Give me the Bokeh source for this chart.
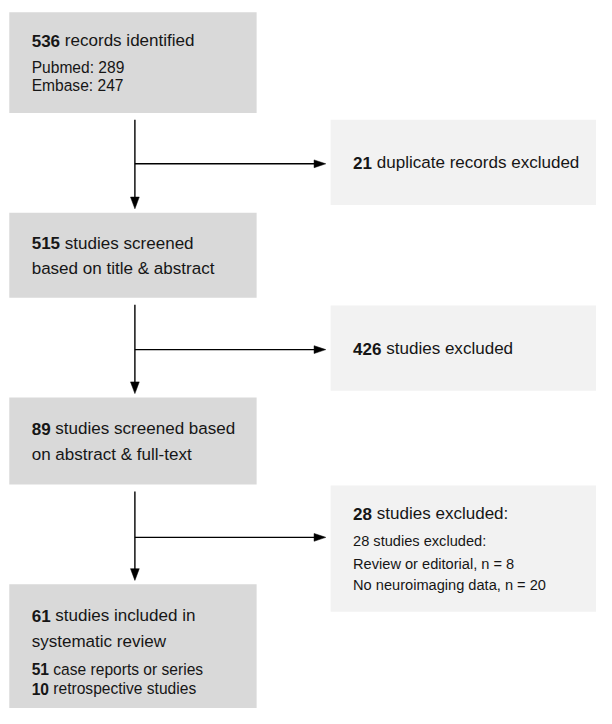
from bokeh.plotting import figure
from bokeh.models import ColumnDataSource, Range1d
from bokeh.core.properties import value
from bokeh.embed import file_html
from bokeh.resources import INLINE

# ---------------- data ----------------
record_total = 536
source_names = ["Pubmed", "Embase"]
source_counts = [289, 247]
screen_counts = [515, 89]
screen_labels = [["studies screened", "based on title & abstract"],
                 ["studies screened based", "on abstract & full-text"]]
included_count = 61
included_labels = ["studies included in", "systematic review"]
design_counts = [51, 10]
design_labels = ["case reports or series", "retrospective studies"]
excluded_counts = [21, 426, 28]
excluded_labels = ["duplicate records excluded", "studies excluded", "studies excluded:"]
reason_labels = ["Review or editorial", "No neuroimaging data"]
reason_counts = [8, 20]

# ---------------- layout (reference pixels, 612 x 724 design) ----------------
W, H = 596, 708            # figure size that fits the window
DW, DH = 612, 724          # design space
S = min(W / DW, H / DH)    # font scale
LEFT_X = (9, 263)
RIGHT_X = (339, 640)
left_tops = [12, 217, 406, 597]
left_bots = [115, 304, 495, 740]
right_tops = [122, 312, 496]
right_bots = [209, 399, 625]
branch_y = [167, 357, 549]
stem_x = 138
tip_x = 334
TX_L, TX_R = 32, 362
HEAD_FS, SUB_FS, SUB_FS_R = 17.5, 16.0, 15.0
LEFT_FILL, RIGHT_FILL = "#d9d9d9", "#f2f2f2"
INK = "#161616"

p = figure(width=W, height=H, output_backend="svg", toolbar_location=None,
           x_range=Range1d(0, DW), y_range=Range1d(DH, 0),
           min_border=0, outline_line_color=None)
p.axis.visible = False
p.grid.visible = False
p.background_fill_color = "white"
p.border_fill_color = "white"

# boxes
p.quad(left=[LEFT_X[0]] * 4, right=[LEFT_X[1]] * 4, top=left_tops, bottom=left_bots,
       fill_color=LEFT_FILL, line_color=None)
p.quad(left=[RIGHT_X[0]] * 3, right=[RIGHT_X[1]] * 3, top=right_tops, bottom=right_bots,
       fill_color=RIGHT_FILL, line_color=None)

# text
xs, ys, txt, sty, siz = [], [], [], [], []

def add(x, y, t, style, fs):
    xs.append(x); ys.append(y); txt.append(t); sty.append(style)
    siz.append(f"{fs * S:.2f}px")

def bold_lead(x, y, n, rest, fs):
    s = str(n)
    add(x, y, s, "bold", fs)
    add(x + len(s) * 0.556 * fs + 0.278 * fs, y, rest, "normal", fs)

# box 1
bold_lead(TX_L, 41, record_total, "records identified", HEAD_FS)
for name, cnt, yy in zip(source_names, source_counts, [69, 87]):
    add(TX_L, yy, f"{name}: {cnt}", "normal", SUB_FS)
# box 2, 3
for cnt, labs, (y1, y2) in zip(screen_counts, screen_labels, [(248, 274), (438, 464)]):
    bold_lead(TX_L, y1, cnt, labs[0], HEAD_FS)
    add(TX_L, y2, labs[1], "normal", HEAD_FS)
# box 4
bold_lead(TX_L, 629, included_count, included_labels[0], HEAD_FS)
add(TX_L, 655, included_labels[1], "normal", HEAD_FS)
for cnt, lab, yy in zip(design_counts, design_labels, [684, 704]):
    bold_lead(TX_L, yy, cnt, lab, SUB_FS)
# right boxes
bold_lead(TX_R, 166, excluded_counts[0], excluded_labels[0], HEAD_FS)
bold_lead(TX_R, 356, excluded_counts[1], excluded_labels[1], HEAD_FS)
bold_lead(TX_R, 525, excluded_counts[2], excluded_labels[2], HEAD_FS)
add(TX_R, 553, f"{excluded_counts[2]} {excluded_labels[2]}", "normal", SUB_FS_R)
for lab, cnt, yy in zip(reason_labels, reason_counts, [576, 598]):
    add(TX_R, yy, f"{lab}, n = {cnt}", "normal", SUB_FS_R)

src = ColumnDataSource(dict(x=xs, y=ys, text=txt, style=sty, size=siz))
p.text(x="x", y="y", text="text", source=src, text_font=value("Liberation Sans"),
       text_font_style="style", text_font_size="size", text_baseline="middle",
       text_align="left", text_color=INK)

# connectors
seg_x0, seg_y0, seg_x1, seg_y1 = [], [], [], []
head_xs, head_ys = [], []
HL, HW = 12, 4.5
for i in range(3):
    y0 = left_bots[i] + 7
    tip = left_tops[i + 1] - 4
    seg_x0.append(stem_x); seg_y0.append(y0); seg_x1.append(stem_x); seg_y1.append(tip - HL + 1)
    head_xs.append([stem_x - HW, stem_x + HW, stem_x]); head_ys.append([tip - HL, tip - HL, tip])
    by = branch_y[i]
    seg_x0.append(stem_x); seg_y0.append(by); seg_x1.append(tip_x - HL + 1); seg_y1.append(by)
    head_xs.append([tip_x - HL, tip_x - HL, tip_x]); head_ys.append([by - HW + 0.5, by + HW - 0.5, by])

p.segment(x0=seg_x0, y0=seg_y0, x1=seg_x1, y1=seg_y1, line_color="black", line_width=1.4)
p.patches(xs=head_xs, ys=head_ys, fill_color="black", line_color="black", line_width=0.5)

open("out.html", "w").write(file_html(p, INLINE))
